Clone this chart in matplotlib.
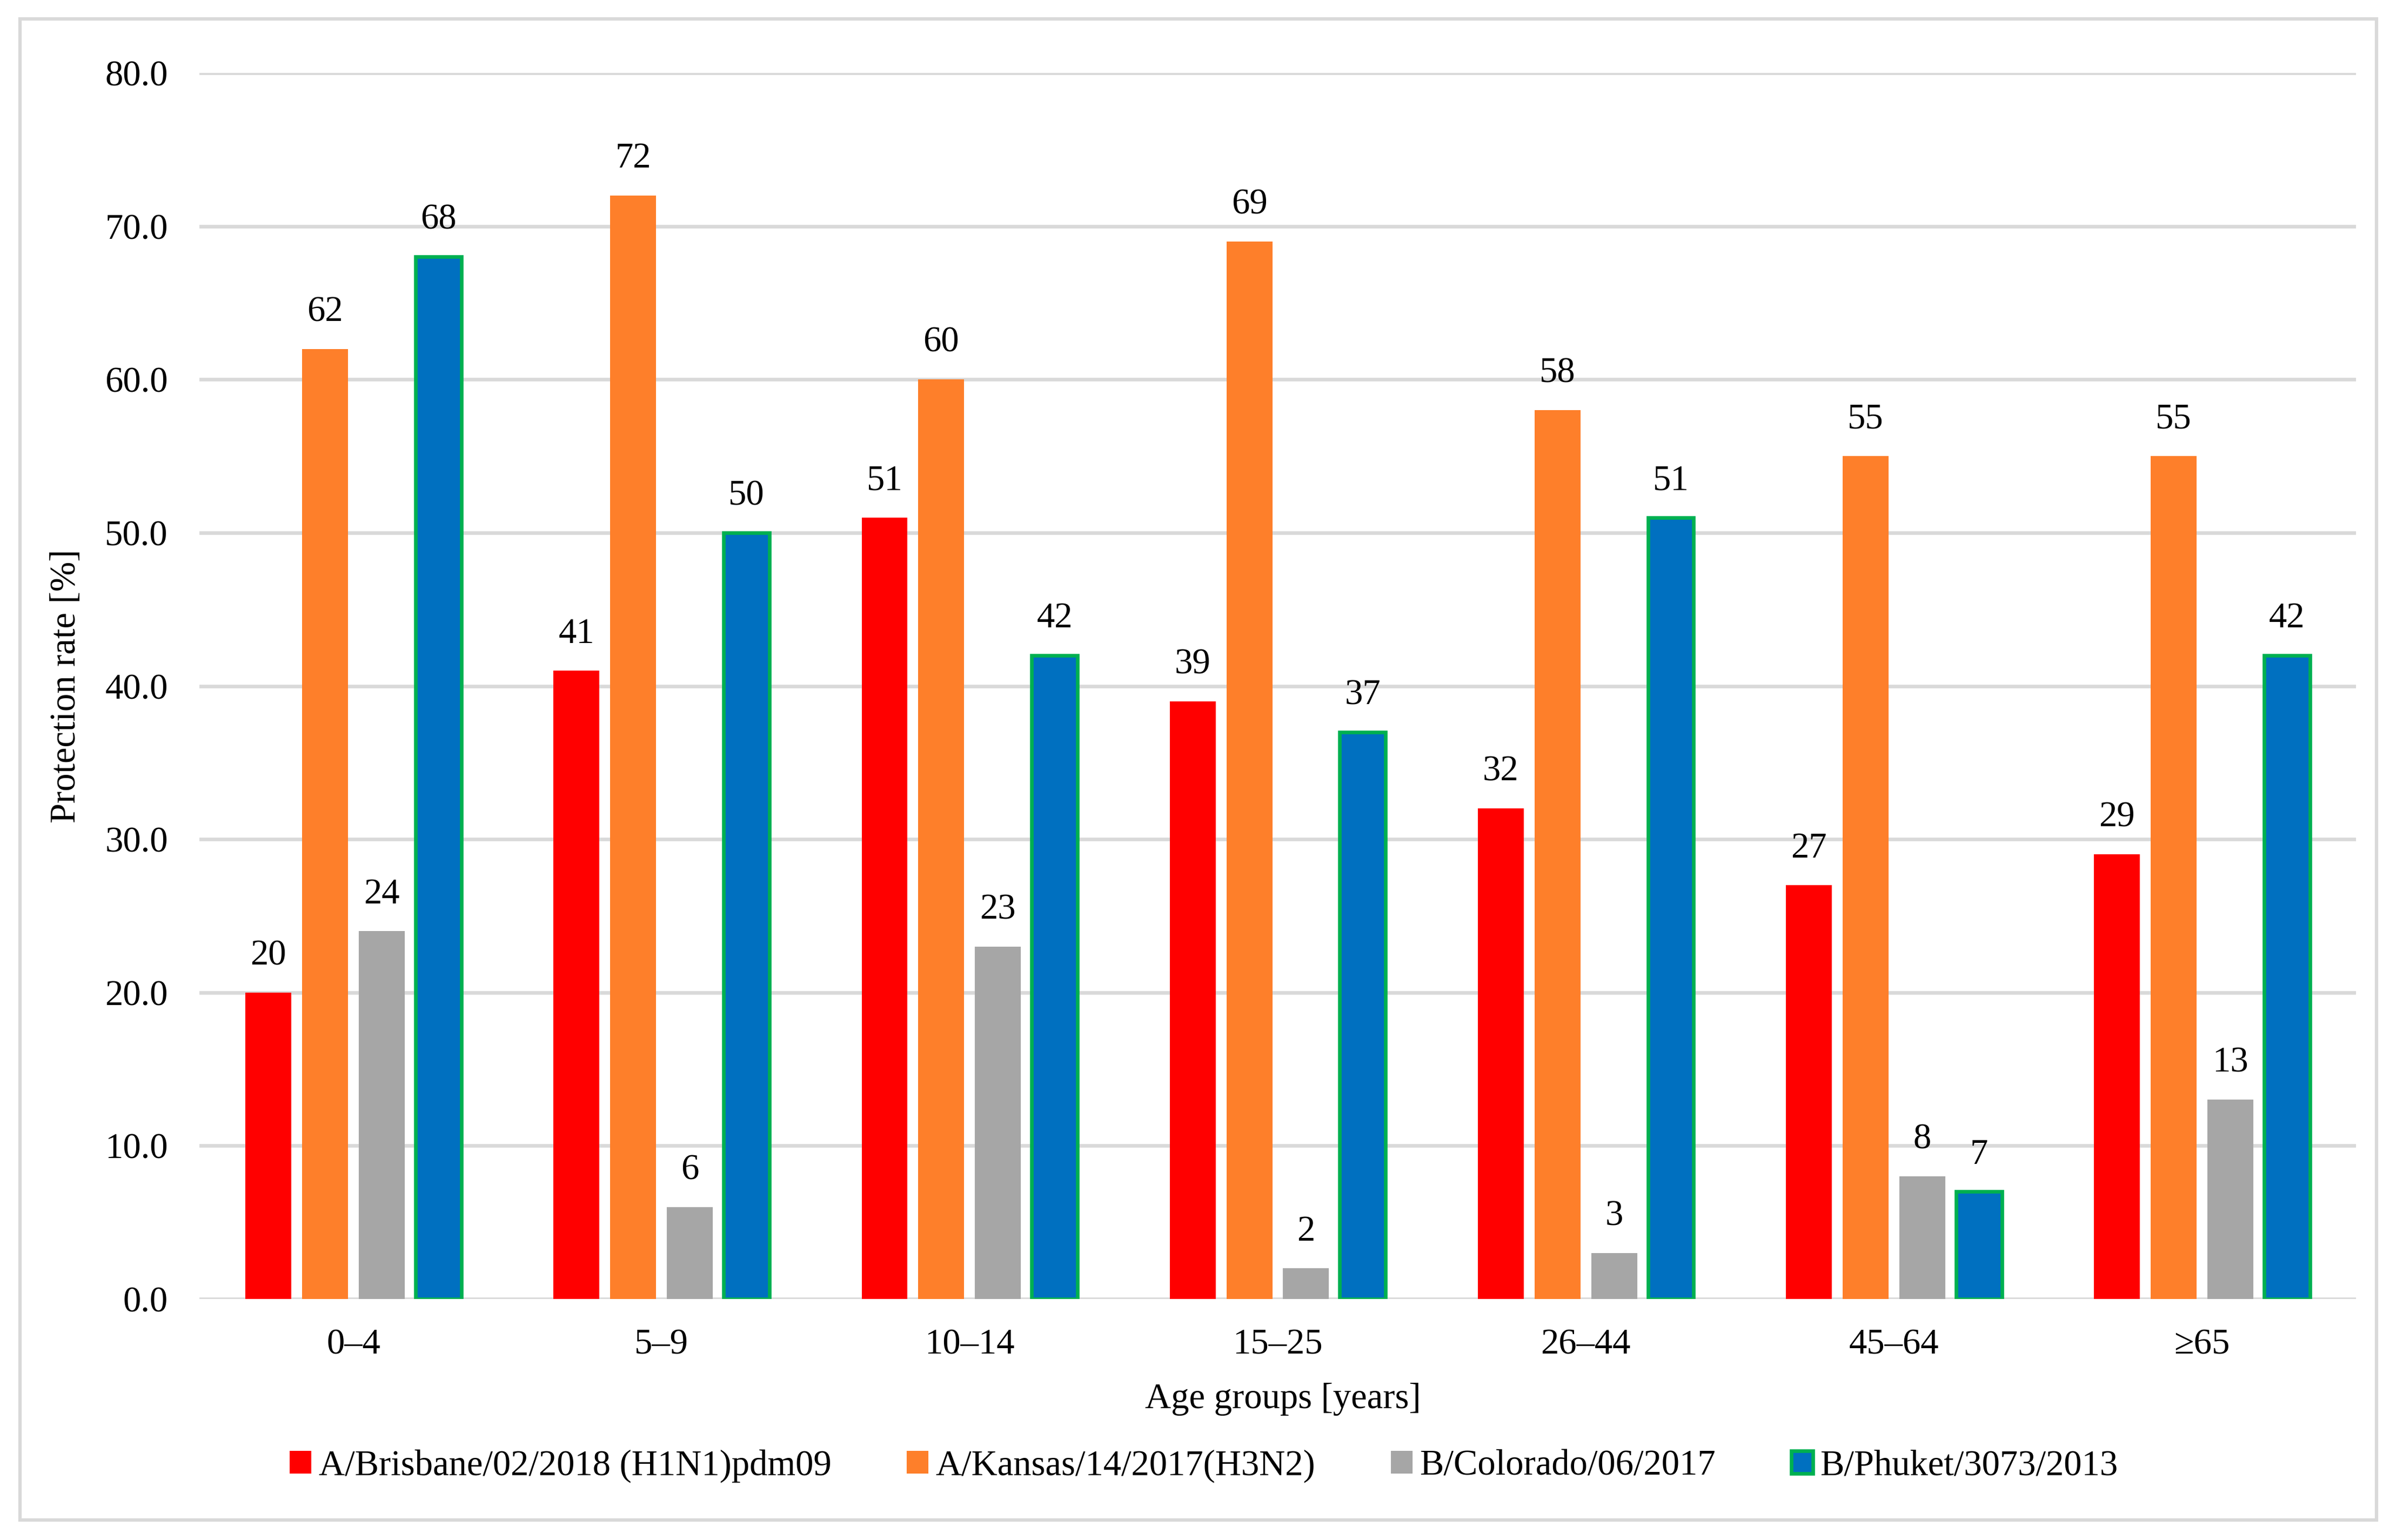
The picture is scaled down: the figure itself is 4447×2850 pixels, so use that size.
import matplotlib
matplotlib.use("Agg")
import matplotlib.pyplot as plt
from matplotlib.patches import Rectangle
import numpy as np

plt.rcParams['font.family'] = ['Liberation Serif', 'DejaVu Serif']
plt.rcParams['font.size'] = 16

# data
age_groups = ['0–4', '5–9', '10–14', '15–25', '26–44', '45–64', '≥65']
series_names = ['A/Brisbane/02/2018 (H1N1)pdm09', 'A/Kansas/14/2017(H3N2)',
                'B/Colorado/06/2017', 'B/Phuket/3073/2013']
brisbane = [20, 41, 51, 39, 32, 27, 29]
kansas = [62, 72, 60, 69, 58, 55, 55]
colorado = [24, 6, 23, 2, 3, 8, 13]
phuket = [68, 50, 42, 37, 51, 7, 42]
y_ticks = [0, 10, 20, 30, 40, 50, 60, 70, 80]

colors = ['#ff0000', '#fe7f2a', '#a6a6a6', '#0070c0']
edges = ['none', 'none', 'none', '#00b050']
series = [brisbane, kansas, colorado, phuket]

W, H = 4447, 2850
fig = plt.figure(figsize=(W / 300, H / 300), dpi=300)
ax = fig.add_axes([369 / W, 1 - 2404 / H, (4360 - 369) / W, (2404 - 135) / H])

x = np.arange(len(age_groups))
width = 0.149
step = 0.184
offsets = [-1.5 * step, -0.5 * step, 0.5 * step, 1.5 * step]

handles = []
for vals, off, c, ec, name in zip(series, offsets, colors, edges, series_names):
    lw = 1.6 if ec != 'none' else 0
    bars = ax.bar(x + off, vals, width, color=c, edgecolor=ec, linewidth=lw,
                  label=name, zorder=3)
    handles.append(bars)
    for b, v in zip(bars, vals):
        ax.annotate(str(v), (b.get_x() + b.get_width() / 2, v),
                    xytext=(0, 9), textcoords='offset points',
                    ha='center', va='bottom', fontsize=16)

ax.set_xlim(-0.5, len(age_groups) - 0.5)
ax.set_ylim(0, 80)
ax.set_yticks(y_ticks)
ax.set_yticklabels(['%.1f' % t for t in y_ticks])
ax.set_xticks(x)
ax.set_xticklabels(age_groups)
ax.tick_params(axis='both', length=0, labelsize=16)
ax.tick_params(axis='y', pad=14)
ax.tick_params(axis='x', pad=13)
ax.grid(axis='y', color='#d9d9d9', linewidth=1.6, zorder=0)
ax.set_axisbelow(True)
for s in ax.spines.values():
    s.set_visible(False)

ax.set_xlabel('Age groups [years]', fontsize=16)
ax.xaxis.set_label_coords((2374 - 369) / (4360 - 369), -(2590 - 2404) / (2404 - 135))
ax.xaxis.label.set_va('center')
ax.set_ylabel('Protection rate [%]', fontsize=16)
ax.yaxis.set_label_coords(-(369 - 123) / (4360 - 369), 0.5)
ax.yaxis.label.set_va('center')

fig.legend(handles=handles, loc='center', ncol=4,
           bbox_to_anchor=(2228 / W, 1 - 2713 / H), frameon=False,
           handlelength=0.6, handleheight=0.6, handletextpad=0.2,
           columnspacing=2.1, fontsize=16)

# outer chart border
fig.patches.append(Rectangle((37 / W, 1 - 2813 / H), (4398 - 37) / W, (2813 - 35) / H,
                             transform=fig.transFigure, fill=False,
                             edgecolor='#d9d9d9', linewidth=1.5))

fig.savefig('out.png', dpi=300, facecolor='white')
